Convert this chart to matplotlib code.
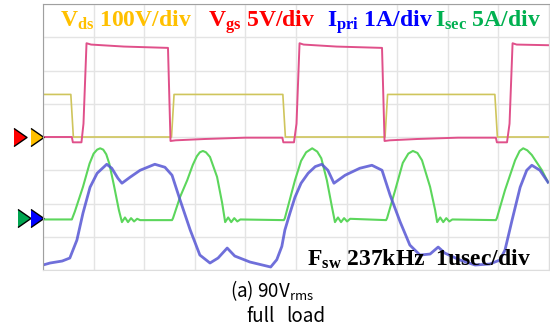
import numpy as np
import matplotlib
matplotlib.use("Agg")
import matplotlib.pyplot as plt

plt.rcParams["mathtext.fontset"] = "custom"
plt.rcParams["mathtext.rm"] = "Liberation Serif"
plt.rcParams["mathtext.bf"] = "Liberation Serif:bold"
plt.rcParams["mathtext.sf"] = "Noto Sans CJK KR"

# volts / amps per division and ground level (div from bottom)
vds_div, vgs_div, ipri_div, isec_div = 100, 5, 1, 5
gnd_v = 4.0   # Vds / Vgs ground
gnd_i = 1.56  # Ipri / Isec ground

# time axis in usec (1usec/div)
t_vds = [0.00, 0.55, 0.60, 2.54, 2.59, 4.74, 4.79, 6.76, 6.81, 8.93, 8.98, 10.0]
v_ds = [128, 128, 0, 0, 128, 128, 0, 0, 128, 128, 0, 0]

t_vgs = [0.00, 0.57, 0.59, 0.76, 0.80, 0.86, 0.95, 1.60, 2.47, 2.52, 2.62, 3.20,
         4.00, 4.73, 4.75, 4.96, 5.01, 5.07, 5.15, 5.80, 6.70, 6.75, 6.85, 7.40,
         8.20, 8.95, 8.97, 9.17, 9.22, 9.28, 9.36, 10.0]
v_gs = [0.0, 0.0, -0.8, -0.8, 2.0, 14.1, 13.9, 13.6, 13.4, -0.6, -0.5, -0.3,
        -0.1, -0.1, -0.8, -0.8, 2.0, 14.1, 13.9, 13.6, 13.4, -0.6, -0.5, -0.3,
        -0.1, -0.1, -0.8, -0.8, 2.0, 14.1, 13.9, 13.8]

t_ipri = [0.00, 0.14, 0.38, 0.53, 0.67, 0.79, 0.93, 1.07, 1.26, 1.36, 1.48, 1.56,
          1.72, 1.92, 2.21, 2.41, 2.55, 2.71, 2.91, 3.10, 3.30, 3.46, 3.64, 3.79,
          4.09, 4.50, 4.62, 4.72, 4.78, 4.88, 4.98, 5.10, 5.24, 5.38, 5.51, 5.63,
          5.75, 5.97, 6.26, 6.50, 6.70, 6.86, 7.06, 7.25, 7.45, 7.65, 7.81, 7.94,
          8.24, 8.54, 8.83, 9.03, 9.13, 9.27, 9.43, 9.56, 9.66, 9.82, 9.98]
i_pri = [-1.41, -1.35, -1.29, -1.20, -0.66, 0.15, 0.93, 1.35, 1.62, 1.50, 1.20, 1.05,
         1.23, 1.44, 1.62, 1.53, 1.29, 0.54, -0.36, -1.11, -1.35, -1.20, -0.90, -1.14,
         -1.32, -1.47, -1.25, -0.85, -0.36, 0.15, 0.63, 1.05, 1.35, 1.55, 1.62, 1.44,
         1.05, 1.29, 1.50, 1.59, 1.44, 0.69, -0.12, -0.81, -1.11, -1.08, -0.87, -1.05,
         -1.26, -1.41, -1.38, -1.26, -0.96, -0.06, 0.93, 1.44, 1.59, 1.44, 1.08]

t_isec = [0.00, 0.57, 0.63, 0.79, 0.92, 1.00, 1.07, 1.13, 1.19, 1.25, 1.31, 1.40, 1.50, 1.56,
          1.62, 1.68, 1.74, 1.80, 1.86, 1.92, 2.55,
          2.57, 2.71, 2.85, 2.96, 3.04, 3.10, 3.16, 3.22, 3.30, 3.44, 3.54, 3.60,
          3.66, 3.72, 3.78, 3.84, 3.90, 4.76,
          4.78, 4.98, 5.10, 5.20, 5.32, 5.42, 5.50, 5.61, 5.71, 5.77,
          5.83, 5.89, 5.95, 6.01, 6.07, 6.78,
          6.80, 6.96, 7.11, 7.22, 7.31, 7.40, 7.49, 7.65, 7.75, 7.79,
          7.85, 7.91, 7.97, 8.03, 8.09, 8.95,
          8.97, 9.13, 9.33, 9.42, 9.49, 9.57, 9.66, 9.86, 9.98]
i_sec = [-0.2, -0.2, 1.0, 4.7, 8.2, 9.7, 10.3, 10.5, 10.3, 9.6, 8.2, 5.0, 1.2, -0.6,
         0.1, -0.6, 0.0, -0.5, -0.1, -0.3, -0.3,
         0.0, 3.2, 5.7, 8.0, 9.3, 9.9, 10.1, 9.9, 9.2, 6.2, 2.3, -0.6,
         0.1, -0.6, 0.0, -0.5, -0.2, -0.3,
         0.0, 5.7, 8.6, 9.9, 10.5, 10.0, 9.0, 5.7, 1.7, -0.6,
         0.1, -0.6, 0.0, -0.5, -0.1, -0.3,
         0.0, 4.2, 8.3, 9.7, 10.1, 9.8, 8.7, 4.7, 1.2, -0.6,
         0.1, -0.6, 0.0, -0.5, -0.2, -0.3,
         0.0, 4.2, 8.7, 10.1, 10.5, 10.2, 9.5, 7.2, 5.4]

W, H = 550, 329
fig = plt.figure(figsize=(W / 100, H / 100), dpi=100)
ax = fig.add_axes([43 / W, (H - 270) / H, 506 / W, 266 / H])
ax.set_xlim(0, 10)
ax.set_ylim(0, 8)
ax.set_xticks(range(11))
ax.set_yticks(range(9))
ax.tick_params(length=0, labelbottom=False, labelleft=False)
ax.grid(True, color="#e4e4e4", lw=1.0)
for s in ["left", "top"]:
    ax.spines[s].set_color("#a0a0a0")
for s in ["right", "bottom"]:
    ax.spines[s].set_color("#dddddd")

ax.plot(t_vds, gnd_v + np.array(v_ds) / vds_div, color="#cfc55c", lw=1.2)
ax.plot(t_vgs, gnd_v + np.array(v_gs) / vgs_div, color="#e0508a", lw=1.4)
ax.plot(t_isec, gnd_i + np.array(i_sec) / isec_div, color="#5cd65c", lw=1.5)
ax.plot(t_ipri, gnd_i + np.array(i_pri) / ipri_div, color="#5656d4", lw=2.0, alpha=0.85)

# channel ground markers
tri = [(-0.72, -1), (0.72, 0), (-0.72, 1)]
yt = ax.get_yaxis_transform()
for xa, yg, c in [(-0.0445, gnd_v, "#ff0000"), (-0.0128, gnd_v, "#ffc000"),
                  (-0.0366, gnd_i, "#00a550"), (-0.0109, gnd_i, "#0000ff")]:
    ax.plot([xa], [yg], marker=tri, ms=13, color=c, mec="black", mew=1.0,
            transform=yt, clip_on=False)

lab = dict(fontsize=17, family="Liberation Serif", weight="bold", va="baseline")
fig.text(60 / W, 1 - 27 / H, r"$\mathbf{V_{ds}}$ 100V/div", color="#ffc000", **lab)
fig.text(208 / W, 1 - 27 / H, r"$\mathbf{V_{gs}}$ 5V/div", color="#ff0000", **lab)
fig.text(327 / W, 1 - 27 / H, r"$\mathbf{I_{pri}}$ 1A/div", color="#0000ff", **lab)
fig.text(435 / W, 1 - 27 / H, r"$\mathbf{I_{sec}}$ 5A/div", color="#00b050", **lab)
fig.text(307 / W, 1 - 266 / H, r"$\mathbf{F_{sw}}$ 237kHz  1usec/div", color="black", **lab)

cap = dict(ha="center", va="baseline", fontsize=13.5, family="Noto Sans CJK KR")
fig.text(230 / W, 1 - 297 / H, r"(a) 90V$_{\mathsf{rms}}$", **dict(cap, ha="left"))
fig.text(261 / W, 1 - 322 / H, "full", **cap)
fig.text(306 / W, 1 - 322 / H, "load", **cap)

fig.savefig("out.png", dpi=100)
